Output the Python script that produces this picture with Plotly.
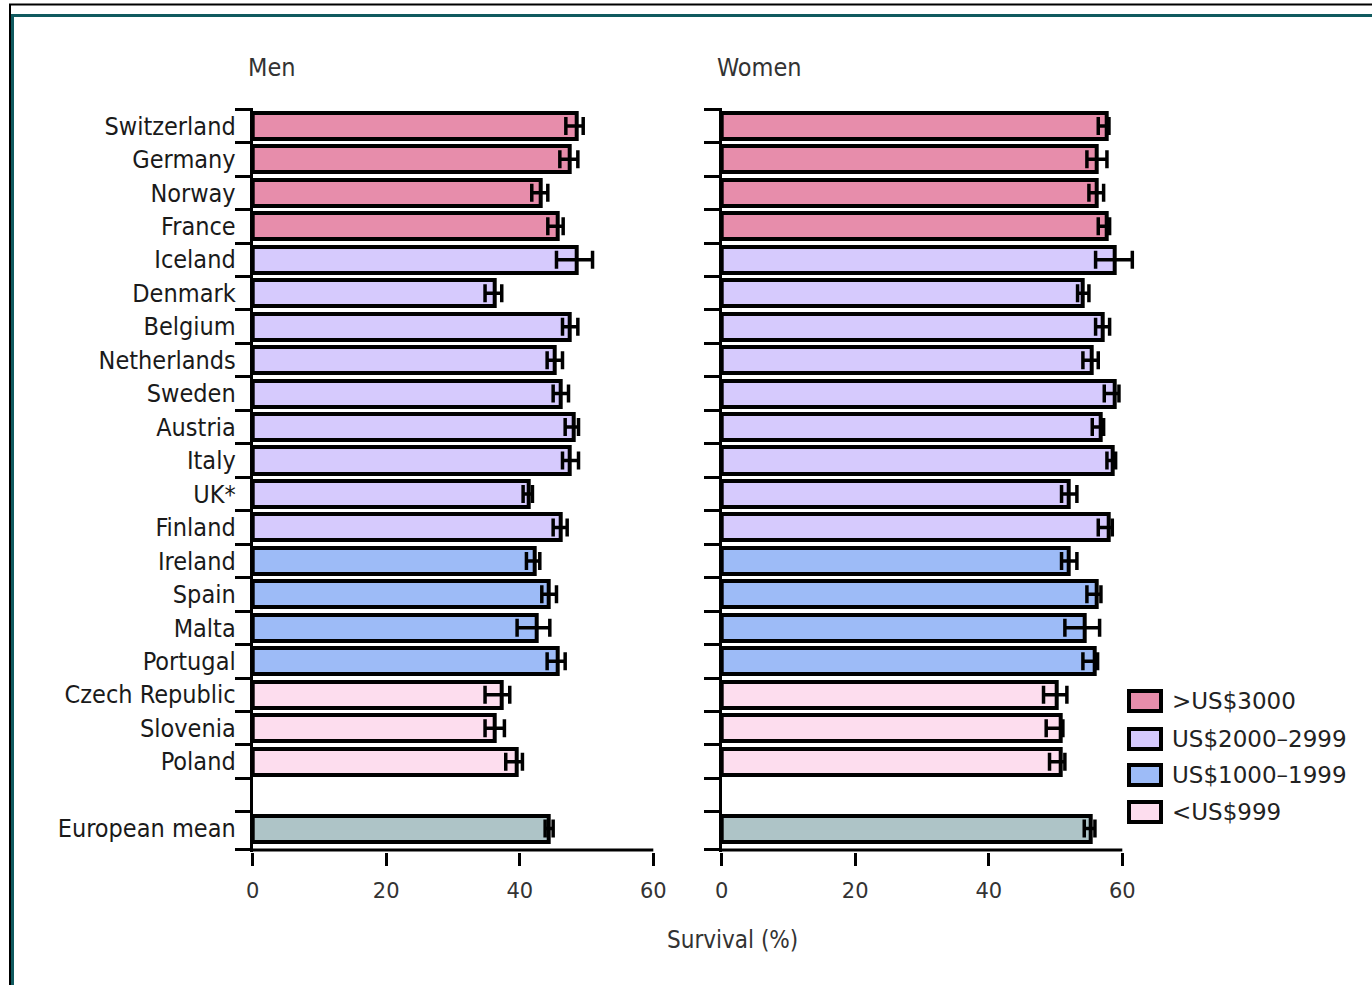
import plotly.graph_objects as go

# Five-year relative survival by country, grouped by health expenditure per head
countries = ["Switzerland", "Germany", "Norway", "France", "Iceland", "Denmark",
             "Belgium", "Netherlands", "Sweden", "Austria", "Italy", "UK*",
             "Finland", "Ireland", "Spain", "Malta", "Portugal",
             "Czech Republic", "Slovenia", "Poland"]
spend_group = [0, 0, 0, 0, 1, 1, 1, 1, 1, 1, 1, 1, 1, 2, 2, 2, 2, 3, 3, 3]

men = [48.5, 47.5, 43.1, 45.7, 48.5, 36.3, 47.5, 45.2, 46.1, 48.1, 47.5, 41.3,
       46.1, 42.2, 44.4, 42.6, 45.7, 37.3, 36.3, 39.5]
men_low = [46.9, 46.0, 41.8, 44.2, 45.5, 34.8, 46.4, 44.1, 45.0, 46.8, 46.4, 40.5,
           45.0, 41.0, 43.3, 39.6, 44.1, 34.8, 34.8, 37.9]
men_high = [49.5, 48.7, 44.2, 46.5, 50.9, 37.3, 48.7, 46.4, 47.3, 48.8, 48.8, 41.9,
            47.1, 43.0, 45.5, 44.5, 46.8, 38.5, 37.7, 40.4]

women = [57.6, 56.2, 56.2, 57.6, 58.9, 54.0, 57.1, 55.4, 58.9, 56.7, 58.5, 52.0,
         58.0, 52.0, 56.2, 54.4, 55.8, 50.2, 50.7, 50.7]
women_low = [56.4, 54.7, 55.0, 56.4, 56.0, 53.3, 56.0, 54.1, 57.3, 55.5, 57.7, 50.9,
             56.4, 50.9, 54.7, 51.4, 54.1, 48.2, 48.6, 49.1]
women_high = [58.0, 57.7, 57.2, 58.1, 61.5, 55.0, 58.1, 56.4, 59.5, 57.2, 59.0, 53.2,
              58.5, 53.2, 56.8, 56.6, 56.3, 51.7, 51.1, 51.4]

eu_label = "European mean"
eu_men, eu_men_low, eu_men_high = 44.4, 43.8, 45.0
eu_women, eu_women_low, eu_women_high = 55.3, 54.3, 55.9

group_labels = [">US$3000", "US$2000\u20132999", "US$1000\u20131999", "<US$999"]
group_colors = ["#E78DAB", "#D6CAFD", "#9DBBF7", "#FDDDEE"]
eu_color = "#AEC4C7"

x_ticks = [0, 20, 40, 60]

W, H = 1372, 985
LABEL_FONT = "DejaVu Sans Condensed, DejaVu Sans, sans-serif"
NUM_FONT = "DejaVu Sans, Verdana, sans-serif"

rows = list(range(len(countries)))
eu_row = len(countries) + 1
y_bottom, y_top = 21.7, -0.535
baseline_y = 21.64


def px(x):
    return x / W


def py(y):
    return 1 - y / H


def err(vals, lo, hi):
    return dict(type="data", symmetric=False,
                array=[h - v for v, h in zip(vals, hi)],
                arrayminus=[v - l for v, l in zip(vals, lo)],
                color="black", thickness=3.5, width=9)


fig = go.Figure()

panels = [
    ("x", "y", men, men_low, men_high, eu_men, eu_men_low, eu_men_high),
    ("x2", "y2", women, women_low, women_high, eu_women, eu_women_low, eu_women_high),
]
for xa, ya, vals, lo, hi, ev, elo, ehi in panels:
    fig.add_trace(go.Bar(
        x=vals, y=rows, orientation="h", width=0.78,
        marker=dict(color=[group_colors[g] for g in spend_group],
                    line=dict(color="black", width=4)),
        error_x=err(vals, lo, hi),
        xaxis=xa, yaxis=ya, showlegend=False, hoverinfo="skip"))
    fig.add_trace(go.Bar(
        x=[ev], y=[eu_row], orientation="h", width=0.78,
        marker=dict(color=eu_color, line=dict(color="black", width=4)),
        error_x=err([ev], [elo], [ehi]),
        xaxis=xa, yaxis=ya, showlegend=False, hoverinfo="skip"))

boundary_ticks = [r - 0.5 for r in range(eu_row + 1)] + [baseline_y]

common_x = dict(range=[0, 62], tickvals=x_ticks, ticks="outside", ticklen=13,
                tickwidth=3, tickcolor="black", showline=False, showgrid=False,
                zeroline=False, ticklabelstandoff=7, automargin=False,
                tickfont=dict(family=NUM_FONT, size=21, color="#333"))
common_y = dict(range=[y_bottom, y_top], domain=[1 - 852 / H, 1 - 108 / H],
                tickvals=rows + [eu_row], ticktext=countries + [eu_label],
                ticks="outside", ticklen=9, tickcolor="rgba(0,0,0,0)",
                showline=True, linewidth=3, linecolor="black",
                showgrid=False, zeroline=False, automargin=False,
                minor=dict(tickvals=boundary_ticks, ticks="outside", ticklen=15,
                           tickwidth=3, tickcolor="black"),
                tickfont=dict(family=LABEL_FONT, size=25, color="#1a1a1a"))

x_unit = 400.6 / 60
men_zero, women_zero = 252.7, 721.7
fig.update_layout(
    width=W, height=H, margin=dict(l=0, r=0, t=0, b=0, pad=0, autoexpand=False),
    paper_bgcolor="white", plot_bgcolor="white", bargap=0,
    xaxis=dict(common_x, anchor="y",
               domain=[px(men_zero), px(men_zero + 62 * x_unit)]),
    xaxis2=dict(common_x, anchor="y2",
                domain=[px(women_zero), px(women_zero + 62 * x_unit)]),
    yaxis=dict(common_y, anchor="x"),
    yaxis2=dict(common_y, anchor="x2", showticklabels=False),
)

shapes = []
# x-axis baselines ending at 60
for xa, ya in (("x", "y"), ("x2", "y2")):
    shapes.append(dict(type="line", xref=xa, yref=ya, x0=0, x1=60,
                       y0=baseline_y, y1=baseline_y,
                       line=dict(color="black", width=3)))

# page frame
shapes += [
    dict(type="line", xref="paper", yref="paper", x0=px(9), x1=1, y0=py(4.5), y1=py(4.5),
         line=dict(color="black", width=2)),
    dict(type="line", xref="paper", yref="paper", x0=px(10), x1=px(10), y0=py(4), y1=0,
         line=dict(color="black", width=2)),
    dict(type="line", xref="paper", yref="paper", x0=px(11.5), x1=1, y0=py(15.5), y1=py(15.5),
         line=dict(color="#105A5F", width=3)),
    dict(type="line", xref="paper", yref="paper", x0=px(12.5), x1=px(12.5), y0=py(14), y1=0,
         line=dict(color="#105A5F", width=3)),
]

# legend swatches
legend_y = [701, 739, 775, 812]
annotations = []
for lab, col, yc in zip(group_labels, group_colors, legend_y):
    shapes.append(dict(type="rect", xref="paper", yref="paper",
                       x0=px(1129), x1=px(1161), y0=py(yc + 10), y1=py(yc - 10),
                       fillcolor=col, line=dict(color="black", width=4)))
    annotations.append(dict(text=lab, xref="paper", yref="paper", x=px(1170), y=py(yc),
                            xanchor="left", yanchor="middle", showarrow=False,
                            font=dict(family=NUM_FONT, size=23, color="#222")))

annotations += [
    dict(text="Men", xref="paper", yref="paper", x=px(246), y=py(68),
         xanchor="left", yanchor="middle", showarrow=False,
         font=dict(family=LABEL_FONT, size=25, color="#333")),
    dict(text="Women", xref="paper", yref="paper", x=px(715), y=py(68),
         xanchor="left", yanchor="middle", showarrow=False,
         font=dict(family=LABEL_FONT, size=25, color="#333")),
    dict(text="Survival (%)", xref="paper", yref="paper", x=px(732), y=py(940),
         xanchor="center", yanchor="middle", showarrow=False,
         font=dict(family=LABEL_FONT, size=24, color="#333")),
]

fig.update_layout(shapes=shapes, annotations=annotations)
fig.write_html("out.html")
